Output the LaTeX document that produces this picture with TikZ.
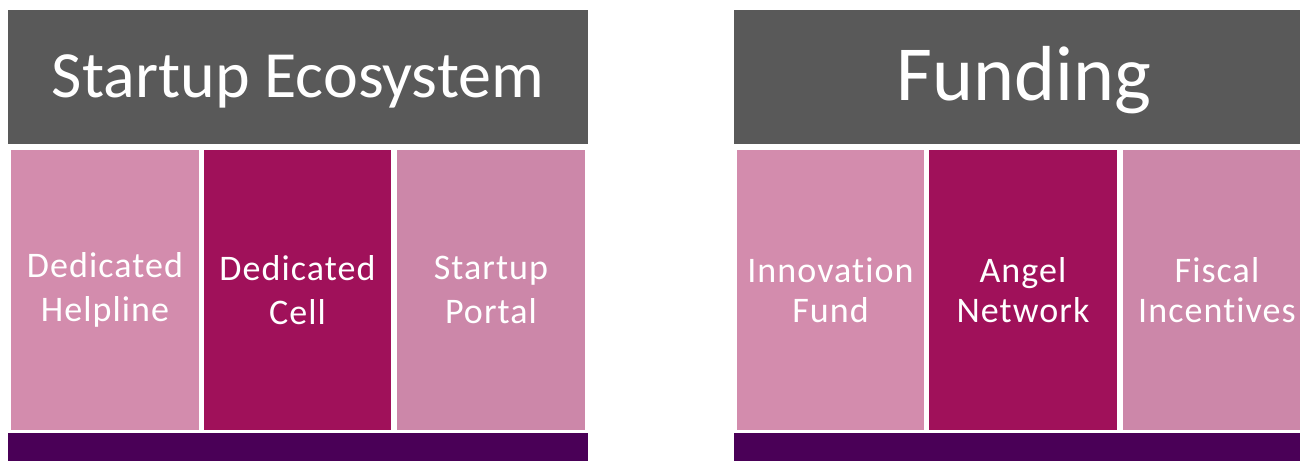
\documentclass[tikz,border=0pt]{standalone}
\usepackage{fontspec}
\setmainfont{Carlito}[Ligatures=NoCommon]
\newfontfamily\colfont{Carlito}[Ligatures=NoCommon, LetterSpace=3]
\definecolor{headgray}{HTML}{595959}
\definecolor{pinkA}{HTML}{D38CAD}
\definecolor{pinkB}{HTML}{CC87A9}
\definecolor{berry}{HTML}{A0115A}
\definecolor{plum}{HTML}{4A0057}
\begin{document}
\begin{tikzpicture}[x=1pt,y=-1pt,
  blk/.style={draw=none, inner sep=0pt, outer sep=0pt, anchor=north west, text=white, align=center},
  head/.style={blk, fill=headgray, minimum width=580pt, minimum height=134pt},
  col/.style={blk, minimum width=188pt, minimum height=280pt},
  colL/.style={col, font=\colfont\fontsize{36}{44}\selectfont},
  colR/.style={col, font=\colfont\fontsize{36}{40}\selectfont},
  bar/.style={blk, fill=plum, minimum width=580pt, minimum height=28pt}]
\useasboundingbox (0,0) rectangle (1300,461);
\clip (0,0) rectangle (1300,461);
% left panel
\node[head, font=\fontsize{66}{70}\selectfont, text height=45pt, text depth=5pt] (h1) at (8,10) {Startup Ecosystem};
\node[colL, fill=pinkA] (c11) at (11,150) {Dedicated\\Helpline};
\node[colL, fill=berry, minimum width=187pt] (c12) at (204,150) {Dedicated\\Cell};
\node[colL, fill=pinkB] (c13) at (397,150) {Startup\\Portal};
\node[bar] (b1) at (8,433) {};
% right panel
\node[head, font=\fontsize{78}{80}\selectfont, text height=50pt, text depth=4pt] (h2) at (734,10) {Funding};
\node[colR, fill=pinkA, minimum width=187pt] (c21) at (737,150) {Innovation\\Fund};
\node[colR, fill=berry] (c22) at (929,150) {Angel\\Network};
\node[colR, fill=pinkB] (c23) at (1123,150) {Fiscal\\Incentives};
\node[bar] (b2) at (734,433) {};
\end{tikzpicture}
\end{document}
